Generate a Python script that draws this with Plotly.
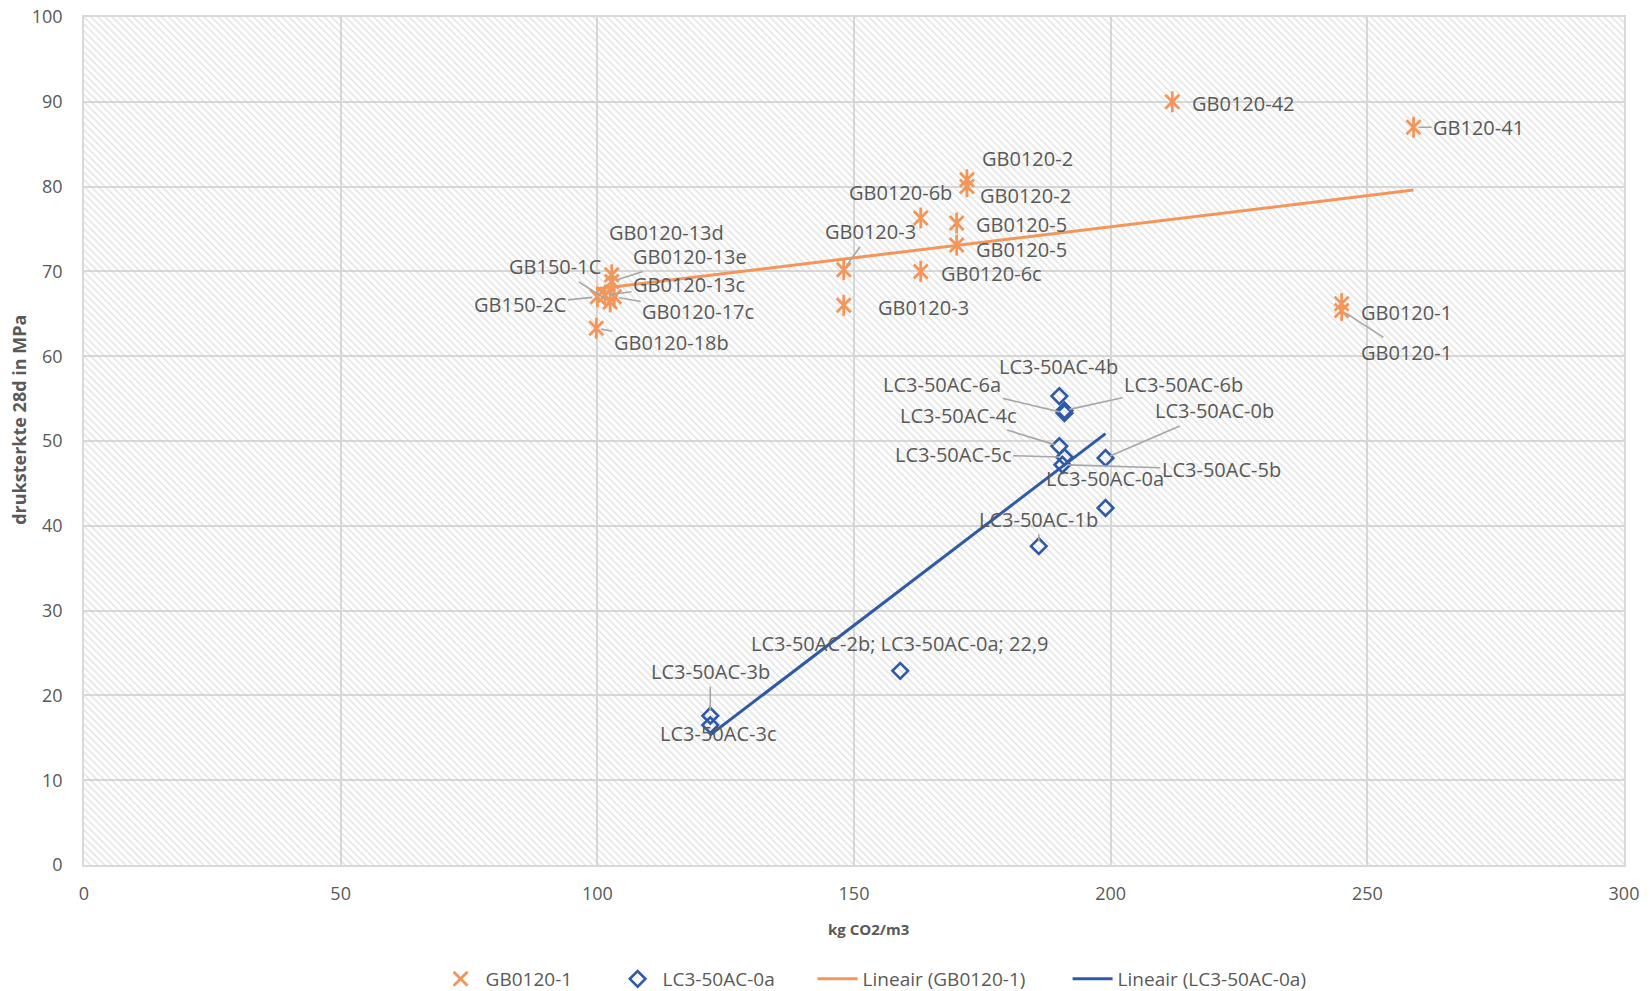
import numpy as np
import plotly.graph_objects as go

# ---------------- data ----------------
gb_names = ["GB0120-42", "GB120-41", "GB0120-2", "GB0120-2", "GB0120-6b", "GB0120-5",
            "GB0120-5", "GB0120-3", "GB0120-6c", "GB0120-3", "GB0120-1", "GB0120-1",
            "GB0120-13d", "GB0120-13e", "GB0120-13c", "GB150-1C", "GB150-2C",
            "GB0120-17c", "GB0120-18b"]
gb_x = [212, 259, 172, 172, 163, 170, 170, 148, 163, 148, 245, 245,
        102.8, 102.8, 101.5, 102.5, 100.0, 103.3, 99.8]
gb_y = [90.0, 87.0, 80.8, 80.0, 76.3, 75.7, 73.1, 70.2, 70.0, 66.0, 66.2, 65.4,
        69.6, 68.8, 67.2, 66.4, 67.0, 67.0, 63.3]

lc_names = ["LC3-50AC-4b", "LC3-50AC-6a", "LC3-50AC-6b", "LC3-50AC-4c", "LC3-50AC-5c",
            "LC3-50AC-5b", "LC3-50AC-0b", "LC3-50AC-0a", "LC3-50AC-1b",
            "LC3-50AC-2b; LC3-50AC-0a; 22,9", "LC3-50AC-3b", "LC3-50AC-3c"]
lc_x = [190, 191, 191, 190, 191, 190.6, 199, 199, 186, 159, 122, 122]
lc_y = [55.3, 53.3, 53.6, 49.4, 48.1, 47.2, 48.0, 42.1, 37.6, 22.9, 17.6, 16.5]

series_names = ["GB0120-1", "LC3-50AC-0a"]
trend_names = ["Lineair (GB0120-1)", "Lineair (LC3-50AC-0a)"]

x_ticks = [0, 50, 100, 150, 200, 250, 300]
y_ticks = [0, 10, 20, 30, 40, 50, 60, 70, 80, 90, 100]
x_title = "kg CO2/m3"
y_title = "druksterkte 28d in MPa"

# ---------------- label placement (pixel offsets, leader on/off) ----------------
gb_lab = [(71, 2, 0), (65, 0, 1), (61, -21, 0), (59, 9, 0), (-20, -25, 0), (65, 1, 0),
          (65, 4, 0), (27, -38, 1), (71, 2, 0), (80, 2, 0), (65, 9, 0), (65, 42, 1),
          (55, -42, 0), (78, -25, 1), (84, -11, 1), (-55, -35, 1), (-77, 8, 1),
          (84, 15, 1), (75, 14, 1)]
lc_lab = [(-1, -30, 0), (-122, -29, 1), (119, -26, 1), (-101, -31, 1), (-111, -3, 1),
          (159, 5, 1), (109, -47, 1), (-1, -29, 0), (0, -27, 1), (0, -27, 0),
          (0, -44, 1), (8, 8, 0)]
legend_widths = [122, 145, 200, 200]

ORANGE = "#F4965A"
BLUE = "#2E5AA8"
GRID = "#d9d9d9"
TEXT = "#595959"
FONT = "Open Sans"


def trend(x, y):
    k, b = np.polyfit(np.asarray(x, float), np.asarray(y, float), 1)
    xs = np.array([min(x), max(x)], float)
    return xs, k * xs + b


fig = go.Figure()

# hatched plot background
xr = [x_ticks[0], x_ticks[-1]]
yr = [y_ticks[0], y_ticks[-1]]
fig.add_trace(go.Scatter(
    x=[xr[0], xr[1], xr[1], xr[0], xr[0]], y=[yr[0], yr[0], yr[1], yr[1], yr[0]],
    mode="lines", line=dict(width=0), fill="toself",
    fillcolor="rgba(255,255,255,0)",
    fillpattern=dict(shape="\\", fgcolor="#c8c8c8", bgcolor="rgba(255,255,255,0)",
                     size=5, solidity=0.3),
    hoverinfo="skip", showlegend=False))

# orange star markers (X + vertical bar)
fig.add_trace(go.Scatter(
    x=gb_x, y=gb_y, mode="markers", name=series_names[0], legendgroup="gb",
    legendwidth=legend_widths[0],
    marker=dict(symbol="x-thin-open", size=14, color=ORANGE,
                line=dict(width=2.8, color=ORANGE))))
fig.add_trace(go.Scatter(
    x=gb_x, y=gb_y, mode="markers", name=series_names[0], legendgroup="gb",
    showlegend=False,
    marker=dict(symbol="line-ns-open", size=15, color=ORANGE,
                line=dict(width=2.8, color=ORANGE))))

# blue diamonds
fig.add_trace(go.Scatter(
    x=lc_x, y=lc_y, mode="markers", name=series_names[1], legendwidth=legend_widths[1],
    marker=dict(symbol="diamond-open", size=12, color=BLUE,
                line=dict(width=2.6, color=BLUE))))

# trendlines
tx, ty = trend(gb_x, gb_y)
fig.add_trace(go.Scatter(x=tx, y=ty, mode="lines", name=trend_names[0],
                         legendwidth=legend_widths[2],
                         line=dict(color=ORANGE, width=3)))
tx, ty = trend(lc_x, lc_y)
fig.add_trace(go.Scatter(x=tx, y=ty, mode="lines", name=trend_names[1],
                         legendwidth=legend_widths[3],
                         line=dict(color=BLUE, width=3)))

# data labels
annotations = []
for names, xs, ys, labs in ((gb_names, gb_x, gb_y, gb_lab), (lc_names, lc_x, lc_y, lc_lab)):
    for n, xv, yv, (dx, dy, lead) in zip(names, xs, ys, labs):
        annotations.append(dict(
            x=xv, y=yv, xref="x", yref="y", text=n, showarrow=True,
            ax=dx, ay=dy, arrowhead=0, arrowwidth=1.6, standoff=5,
            arrowcolor="#a6a6a6" if lead else "rgba(0,0,0,0)",
            font=dict(family=FONT, size=20, color=TEXT)))

# axis titles
annotations.append(dict(text=f"<b>{x_title}</b>", xref="paper", yref="paper",
                        x=0.5097, y=-0.075, xanchor="center", yanchor="middle",
                        showarrow=False, font=dict(family=FONT, size=15, color=TEXT)))
annotations.append(dict(text=f"<b>{y_title}</b>", xref="paper", yref="paper",
                        x=-0.0422, y=0.525, xanchor="center", yanchor="middle",
                        textangle=-90, showarrow=False,
                        font=dict(family=FONT, size=18, color=TEXT)))

fig.update_layout(
    width=1650, height=991,
    margin=dict(l=84, r=26, t=17, b=126, autoexpand=False),
    paper_bgcolor="white", plot_bgcolor="white",
    font=dict(family=FONT, color=TEXT, size=18),
    annotations=annotations,
    legend=dict(orientation="h", xref="container", yref="container",
                x=0.264, xanchor="left", y=1 - 979 / 991, yanchor="middle",
                font=dict(size=19, color=TEXT), itemwidth=40, traceorder="normal"),
    xaxis=dict(range=xr, tickvals=x_ticks, showgrid=True, gridcolor=GRID, gridwidth=1.6,
               zeroline=False, showline=True, linecolor=GRID, linewidth=1.6, mirror=True,
               ticks="", ticklabelstandoff=12, tickfont=dict(size=18, color=TEXT),
               automargin=False),
    yaxis=dict(range=yr, tickvals=y_ticks, showgrid=True, gridcolor=GRID, gridwidth=1.6,
               zeroline=False, showline=True, linecolor=GRID, linewidth=1.6, mirror=True,
               ticks="", ticklabelstandoff=16, tickfont=dict(size=18, color=TEXT),
               automargin=False),
)

fig.write_html("out.html", config={"displayModeBar": False},
               post_script="document.body.style.margin='0';")
